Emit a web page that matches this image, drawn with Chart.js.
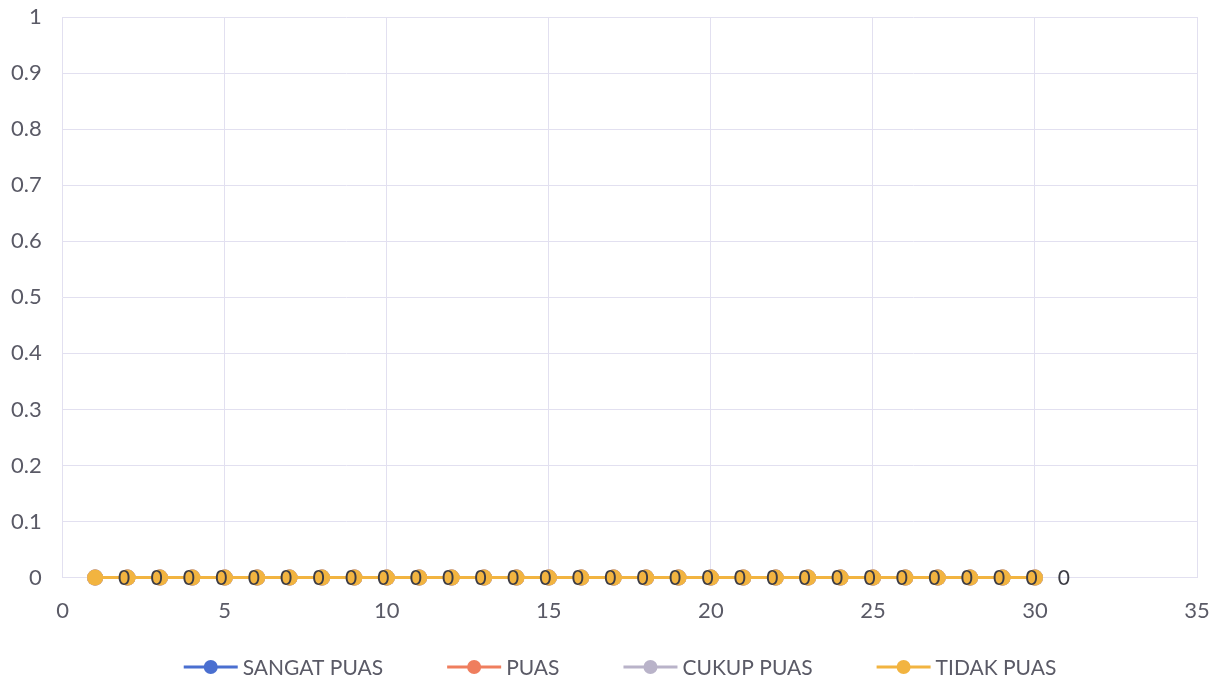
<!DOCTYPE html>
<html>
<head>
<meta charset="utf-8">
<script src="https://cdn.jsdelivr.net/npm/chart.js@4"></script>
<style>
  html, body { margin: 0; padding: 0; background: #fff; }
  #wrap { width: 1225px; height: 683px; }
</style>
</head>
<body>
<div id="wrap"><canvas id="grafik"></canvas></div>
<script>
// Data responden (nomor 1 - 30)
const nomor = [1, 2, 3, 4, 5, 6, 7, 8, 9, 10, 11, 12, 13, 14, 15, 16, 17, 18, 19, 20, 21, 22, 23, 24, 25, 26, 27, 28, 29, 30];
const sangatPuas = [0, 0, 0, 0, 0, 0, 0, 0, 0, 0, 0, 0, 0, 0, 0, 0, 0, 0, 0, 0, 0, 0, 0, 0, 0, 0, 0, 0, 0, 0];
const puas = [0, 0, 0, 0, 0, 0, 0, 0, 0, 0, 0, 0, 0, 0, 0, 0, 0, 0, 0, 0, 0, 0, 0, 0, 0, 0, 0, 0, 0, 0];
const cukupPuas = [0, 0, 0, 0, 0, 0, 0, 0, 0, 0, 0, 0, 0, 0, 0, 0, 0, 0, 0, 0, 0, 0, 0, 0, 0, 0, 0, 0, 0, 0];
const tidakPuas = [0, 0, 0, 0, 0, 0, 0, 0, 0, 0, 0, 0, 0, 0, 0, 0, 0, 0, 0, 0, 0, 0, 0, 0, 0, 0, 0, 0, 0, 0];

const fontUtama = 'Lato, "Open Sans", sans-serif';
const warnaTeks = '#5a5a66';

function titik(xs, ys) {
    return xs.map((x, i) => ({ x: x, y: ys[i] }));
}

function buatSeri(label, data, warna, urutan) {
    return {
        label: label,
        data: titik(nomor, data),
        showLine: true,
        borderColor: warna,
        backgroundColor: warna,
        borderWidth: 3,
        pointRadius: 8,
        pointHoverRadius: 8,
        pointBorderWidth: 0,
        pointStyle: 'circle',
        clip: false,
        order: urutan
    };
}

// buang padding otomatis dari label sumbu, biar layout.padding yang atur
function tanpaPadding(scale) {
    scale.paddingTop = 0;
    scale.paddingBottom = 0;
    scale.paddingLeft = 0;
    scale.paddingRight = 0;
    // chart.js menghitung padding tick dua kali, ambil satu saja
    const pad = scale.options.ticks.padding;
    if (scale.isHorizontal()) scale.height -= pad;
    else scale.width -= pad;
}

// label nilai "0" di sebelah kanan titik
const labelNilai = {
    id: 'labelNilai',
    afterDatasetsDraw(chart) {
        const ctx = chart.ctx;
        const meta = chart.getDatasetMeta(3);
        ctx.save();
        ctx.font = '21px ' + fontUtama;
        ctx.fillStyle = '#3c3c44';
        ctx.textAlign = 'center';
        ctx.textBaseline = 'middle';
        meta.data.forEach((el, i) => {
            ctx.fillText(String(tidakPuas[i]), el.x + 29, el.y + 1);
        });
        ctx.restore();
    }
};

// legend digambar sendiri: garis + bulatan, lalu teks
const legendBawah = {
    id: 'legendBawah',
    afterDraw(chart) {
        const ctx = chart.ctx;
        const sets = chart.data.datasets;
        const lebarIkon = 54, celah = 5, jarak = 64, tengahY = 667;
        ctx.save();
        ctx.font = '21px ' + fontUtama;
        ctx.textBaseline = 'middle';
        const lebarTeks = sets.map(ds => ctx.measureText(ds.label).width);
        let total = 0;
        lebarTeks.forEach(w => { total += lebarIkon + celah + w; });
        total += jarak * (sets.length - 1);
        let x = 620 - total / 2;
        sets.forEach((ds, i) => {
            ctx.strokeStyle = ds.borderColor;
            ctx.lineWidth = 3;
            ctx.beginPath();
            ctx.moveTo(x, tengahY);
            ctx.lineTo(x + lebarIkon, tengahY);
            ctx.stroke();
            ctx.fillStyle = ds.backgroundColor;
            ctx.beginPath();
            ctx.arc(x + lebarIkon / 2, tengahY, 7, 0, Math.PI * 2);
            ctx.fill();
            ctx.fillStyle = warnaTeks;
            ctx.textAlign = 'left';
            ctx.fillText(ds.label, x + lebarIkon + celah, tengahY + 1);
            x += lebarIkon + celah + lebarTeks[i] + jarak;
        });
        ctx.restore();
    }
};

const grafik = new Chart(document.getElementById('grafik'), {
    type: 'scatter',
    data: {
        datasets: [
            buatSeri('SANGAT PUAS', sangatPuas, '#4a6fd0', 4),
            buatSeri('PUAS', puas, '#ef7e5e', 3),
            buatSeri('CUKUP PUAS', cukupPuas, '#b9b3c9', 2),
            buatSeri('TIDAK PUAS', tidakPuas, '#f2b440', 1)
        ]
    },
    options: {
        responsive: true,
        maintainAspectRatio: false,
        animation: false,
        layout: { padding: { left: 11, right: 28, top: 17, bottom: 59 } },
        scales: {
            x: {
                type: 'linear',
                min: 0,
                max: 35,
                afterFit: tanpaPadding,
                ticks: { stepSize: 5, color: warnaTeks, font: { family: fontUtama, size: 22 }, padding: 20 },
                grid: { color: '#e2e0f0', drawTicks: false },
                border: { display: false }
            },
            y: {
                min: 0,
                max: 1,
                afterFit: tanpaPadding,
                ticks: {
                    stepSize: 0.1,
                    color: warnaTeks,
                    font: { family: fontUtama, size: 22 },
                    padding: 21,
                    callback: v => String(Number(v.toFixed(1)))
                },
                grid: { color: '#e2e0f0', drawTicks: false },
                border: { display: false }
            }
        },
        plugins: {
            legend: { display: false },
            tooltip: { enabled: false }
        }
    },
    plugins: [labelNilai, legendBawah]
});
</script>
</body>
</html>
